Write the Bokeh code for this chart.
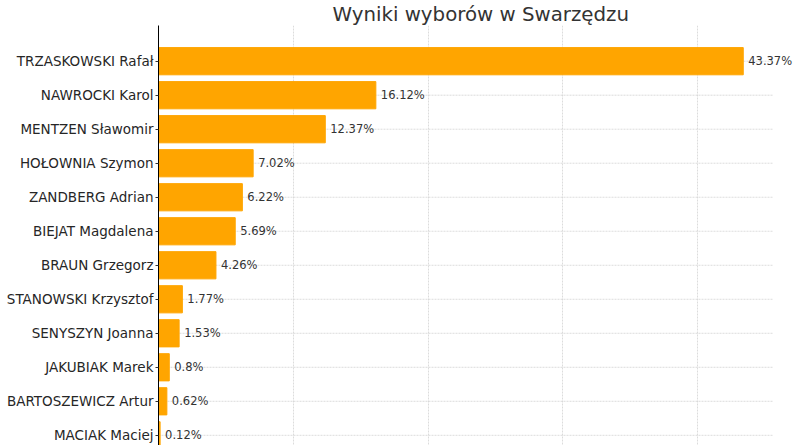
from bokeh.plotting import figure
from bokeh.models import Range1d, FixedTicker, SingleIntervalTicker, ColumnDataSource, LabelSet
from bokeh.core.properties import value
from bokeh.embed import file_html
from bokeh.resources import INLINE

# election results, Swarzędz
candidates = [
    "TRZASKOWSKI Rafał", "NAWROCKI Karol", "MENTZEN Sławomir", "HOŁOWNIA Szymon",
    "ZANDBERG Adrian", "BIEJAT Magdalena", "BRAUN Grzegorz", "STANOWSKI Krzysztof",
    "SENYSZYN Joanna", "JAKUBIAK Marek", "BARTOSZEWICZ Artur", "MACIAK Maciej",
]
percent = [43.37, 16.12, 12.37, 7.02, 6.22, 5.69, 4.26, 1.77, 1.53, 0.8, 0.62, 0.12]

labels = [f"{v}%" for v in percent]
pos = list(range(len(candidates)))
xmax = max(percent) * 1.05  # axis limit of the original chart
src = ColumnDataSource(dict(name=candidates, pct=percent, label=labels, y=pos,
                            x0=[0] * len(pos), x1=[xmax] * len(pos)))

FONT = "DejaVu Sans"
GRID = "#d3d3d3"

# frame runs to the right edge so the value labels are not clipped;
# the horizontal grid stops at xmax like in the original
p = figure(
    width=800, height=445,
    x_range=Range1d(0, xmax * 642 / 614),
    y_range=Range1d(len(candidates) - 0.7, -1.05),
    title="Wyniki wyborów w Swarzędzu",
    output_backend="svg", toolbar_location=None,
    min_border_left=158, min_border_right=0, min_border_top=0, min_border_bottom=0,
)
p.outline_line_color = None
p.background_fill_color = "white"

p.title.align = "left"
p.title.offset = 174
p.title.standoff = 0
p.title.text_font = FONT
p.title.text_font_size = "19.8px"
p.title.text_font_style = "normal"
p.title.text_color = "#333333"

p.xaxis.visible = False
p.xgrid.ticker = SingleIntervalTicker(interval=10)
p.xgrid.grid_line_color = GRID
p.xgrid.grid_line_dash = "2 1"
p.xgrid.grid_line_width = 0.8
p.ygrid.visible = False
p.segment(x0="x0", x1="x1", y0="y", y1="y", source=src,
          line_color=GRID, line_dash="2 1", line_width=0.8)

p.hbar(y="y", right="pct", left=0, height=0.8, color="#FFA500", source=src)
p.add_layout(LabelSet(x="pct", y="y", text="label", source=src, x_offset=5,
                      text_font=value(FONT), text_font_size="11.5px", text_color="#333333",
                      text_baseline="middle", text_align="left"))

ax = p.yaxis[0]
ax.ticker = FixedTicker(ticks=pos)
ax.major_label_overrides = {i: n for i, n in zip(pos, candidates)}
ax.major_label_text_font = FONT
ax.major_label_text_font_size = "13.5px"
ax.major_label_text_color = "#262626"
ax.axis_line_color = "black"
ax.major_tick_in = 0
ax.major_tick_out = 3
ax.major_tick_line_color = "#333333"
ax.minor_tick_line_color = None
ax.major_label_standoff = 2

open("out.html", "w").write(file_html(p, INLINE))
